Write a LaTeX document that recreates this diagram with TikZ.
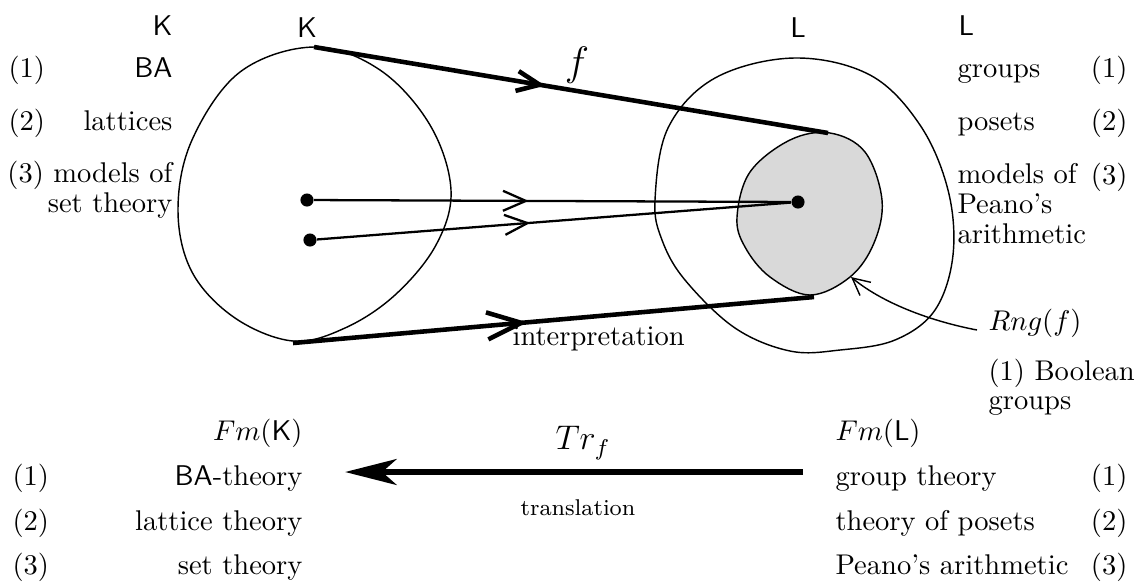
\documentclass[tikz,border=0pt]{standalone}
\usepackage{amsmath}
\usepackage{tikz}
\usetikzlibrary{arrows.meta,calc,decorations.markings}

\begin{document}
\begin{tikzpicture}[x=0.3505pt,y=-0.3505pt,>=Stealth,
    blob/.style={line width=0.5pt},
    thinmap/.style={line width=0.8pt},
    thickmap/.style={line width=1.6pt},
    smallchev/.style={postaction={decorate},decoration={markings,
        mark=at position #1 with {\arrow{Straight Barb[length=8pt,width=7pt]}}}},
    bigchev/.style={postaction={decorate},decoration={markings,
        mark=at position #1 with {\arrow{Straight Barb[length=12pt,width=9.5pt]}}}},
    elem/.style={circle,fill,inner sep=0pt,minimum size=4.6pt},
    lbl/.style={inner sep=0pt}]
    \useasboundingbox (0,0) rectangle (1139,581);

    % the two classes
    \draw[blob] plot[smooth cycle,tension=0.6] coordinates {(314,47) (380,70) (430,125)
        (451,190) (436,245) (395,295) (345,328) (293,341) (235,318) (192,272) (178,210)
        (192,140) (240,72)};
    \draw[blob] plot[smooth cycle,tension=0.6] coordinates {(655,200) (668,128) (715,78)
        (794,58) (870,75) (920,125) (948,190) (953,255) (935,310) (895,340) (840,350)
        (790,351) (735,328) (685,280) (662,240)};
    \filldraw[blob,fill=black!15] plot[smooth cycle,tension=0.6] coordinates {(737,217)
        (750,172) (790,140) (830,133) (865,152) (882,200) (874,243) (850,277) (810,295)
        (770,277) (745,247)};

    \coordinate (kTop) at (314,47);
    \coordinate (lTop) at (828,133);
    \coordinate (kBot) at (293,343);
    \coordinate (lBot) at (814,297);
    \coordinate (grRng) at (851,277);
    \coordinate (rngFoot) at (977,330);
    \coordinate (trR) at (803,472);
    \coordinate (trL) at (345,472);

    \node[elem] (p1) at (307,200) {};
    \node[elem] (p2) at (310,240) {};
    \node[elem] (q) at (798,202) {};

    \draw[thickmap,smallchev=0.45] (kTop) -- (lTop);
    \draw[thickmap,bigchev=0.45] (kBot) -- (lBot);
    \draw[thinmap,smallchev=0.45] (p1) -- (q);
    \draw[thinmap,smallchev=0.45] (p2) -- (q);
    \draw[blob,-{Straight Barb[length=6pt,width=6pt]}] (rngFoot)
        .. controls (935,322) and (885,305) .. (grRng);
    \draw[line width=2.4pt,-{Stealth[length=18pt,width=9pt,inset=5pt]}] (trR) -- (trL);

    % labels round the classes
    \node[lbl,anchor=base east] (kLeft) at (173,35) {$\mathsf{K}$};
    \node[lbl,anchor=base] (kOver) at (307,37) {$\mathsf{K}$};
    \node[lbl,anchor=base] (lOver) at (798,37) {$\mathsf{L}$};
    \node[lbl,anchor=base west] (lRight) at (958,35) {$\mathsf{L}$};
    \node[lbl,anchor=center] (fLbl) at (577,65) {\Large $f$};

    \node[lbl,anchor=base west] (n1) at (8,77) {(1)};
    \node[lbl,anchor=base east] (ba) at (173,77) {$\mathsf{BA}$};
    \node[lbl,anchor=base west] (n2) at (8,130) {(2)};
    \node[lbl,anchor=base east] (lat) at (173,130) {lattices};
    \node[lbl,anchor=north east,align=right] (mst) at (173,161)
        {(3) models of\\[-1.5pt] set theory};

    \node[lbl,anchor=base west] (grp) at (957,77) {groups};
    \node[lbl,anchor=base east] (m1) at (1128,77) {(1)};
    \node[lbl,anchor=base west] (pos) at (957,130) {posets};
    \node[lbl,anchor=base east] (m2) at (1128,130) {(2)};
    \node[lbl,anchor=north west,align=left] (mpa) at (957,163)
        {models of\\[-1.5pt] Peano's\\[-1.5pt] arithmetic};
    \node[lbl,anchor=base east] (m3) at (1128,184) {(3)};

    \node[lbl,anchor=base west] (interp) at (512,345) {interpretation};
    \node[lbl,anchor=base west] (rng) at (988,330) {$Rng(f)$};
    \node[lbl,anchor=north west,align=left] (bool) at (988,359)
        {(1) Boolean\\[-2pt] groups};

    % formulas and translation
    \node[lbl,anchor=base east] (fmK) at (303,440) {$Fm(\mathsf{K})$};
    \node[lbl,anchor=base west] (fmL) at (835,440) {$Fm(\mathsf{L})$};
    \node[lbl,anchor=center] (trLbl) at (583,443) {\large $Tr_f$};
    \node[lbl,anchor=center] (trans) at (578,508) {\footnotesize translation};

    \node[lbl,anchor=base west] (b1) at (12,485) {(1)};
    \node[lbl,anchor=base east] (bat) at (303,485) {$\mathsf{BA}$-theory};
    \node[lbl,anchor=base west] (b2) at (12,530) {(2)};
    \node[lbl,anchor=base east] (latt) at (303,530) {lattice theory};
    \node[lbl,anchor=base west] (b3) at (12,574) {(3)};
    \node[lbl,anchor=base east] (sett) at (303,574) {set theory};

    \node[lbl,anchor=base west] (grpt) at (835,485) {group theory};
    \node[lbl,anchor=base east] (c1) at (1128,485) {(1)};
    \node[lbl,anchor=base west] (post) at (835,530) {theory of posets};
    \node[lbl,anchor=base east] (c2) at (1128,530) {(2)};
    \node[lbl,anchor=base west] (peat) at (835,574) {Peano's arithmetic};
    \node[lbl,anchor=base east] (c3) at (1128,574) {(3)};
\end{tikzpicture}
\end{document}
